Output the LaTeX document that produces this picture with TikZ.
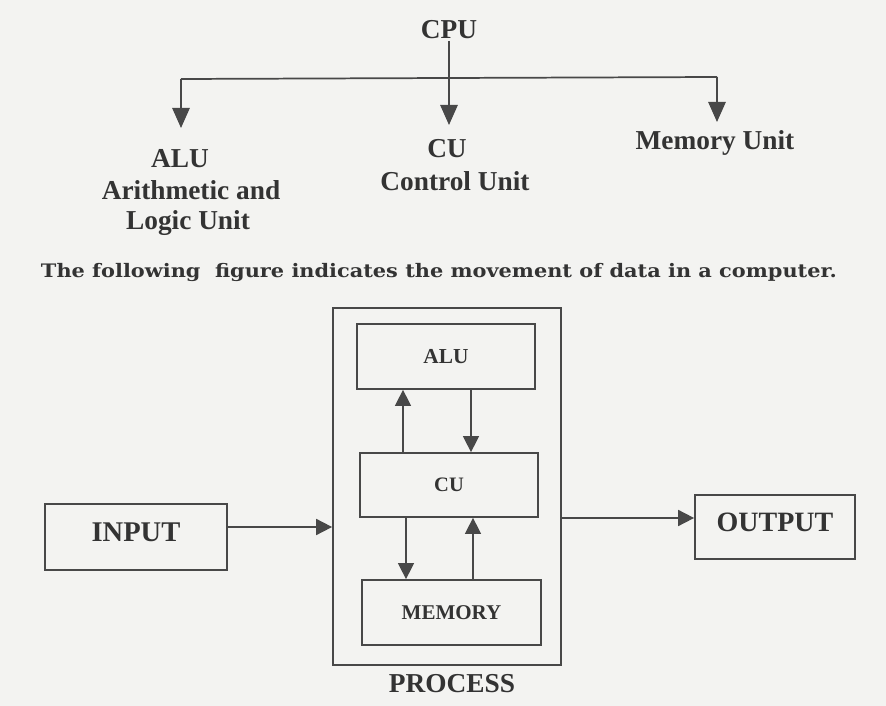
\documentclass[tikz,border=0pt]{standalone}
\usepackage{fontspec}
\usepackage{graphicx}
\setmainfont{Liberation Serif}
\newfontfamily\capfont{DejaVu Serif}[BoldFont={DejaVu Serif Bold}]
\usetikzlibrary{arrows.meta,calc}
\definecolor{ink}{HTML}{333333}
\definecolor{wire}{HTML}{484848}
\definecolor{paper}{HTML}{F3F3F1}
\begin{document}
\begin{tikzpicture}[x=0.75pt,y=-0.75pt,
  txt/.style={text=ink,inner sep=0pt,anchor=base,font=\bfseries\fontsize{20.5}{22}\selectfont},
  boxlbl/.style={draw=wire,line width=1.3pt,inner sep=0pt,text=ink},
  bigtip/.style={-{Triangle[length=15pt,width=13pt]}},
  smalltip/.style={-{Triangle[length=12pt,width=12pt]}},
  wireline/.style={draw=wire,line width=1.3pt},
  thinwire/.style={draw=wire,line width=1pt}]
\fill[paper] (0,0) rectangle (886,706);
\useasboundingbox (0,0) rectangle (886,706);

% ---------- top hierarchy ----------
\node[txt] (cpu) at (449,39) {CPU};
\node[txt] (aluA) at (180,168) {ALU};
\node[txt] (aluB) at (191,200) {Arithmetic and};
\node[txt] (aluC) at (188,230) {Logic Unit};
\node[txt] (cuA) at (447,158) {CU};
\node[txt] (cuB) at (455,191) {Control Unit};
\node[txt] (mem) at (715,150) {Memory Unit};

\coordinate (hl) at (181,79);
\coordinate (hr) at (717,77);
\coordinate (tipl) at (181,128);
\coordinate (tipc) at (449,125);
\coordinate (tipr) at (717,122);
\draw[wireline,bigtip] ([yshift=-1pt]cpu.south) -- (tipc);
\draw[wireline,bigtip] (hl) -- (tipl);
\draw[wireline,bigtip] (hr) -- (tipr);
\draw[wireline] (hl) -- (hr);

% ---------- caption ----------
\node[text=ink,inner sep=0pt,anchor=base] (cap) at (439,277)
  {\resizebox{597pt}{10.6pt}{\capfont\bfseries\fontsize{16}{18}\selectfont The following~~figure indicates the movement of data in a computer.}};

% ---------- bottom block diagram ----------
\node[boxlbl,minimum width=171pt,minimum height=267.75pt] (process) at (447,486.5) {};
\node[boxlbl,minimum width=133.5pt,minimum height=48.75pt,font=\bfseries\fontsize{16}{18}\selectfont] (alu) at (446,356.5) {ALU};
\node[boxlbl,minimum width=133.5pt,minimum height=48pt,font=\bfseries\fontsize{15.4}{18}\selectfont] (cu) at (449,485) {CU};
\node[boxlbl,minimum width=134.25pt,minimum height=48.75pt,font=\bfseries\fontsize{15.75}{18}\selectfont] (memory) at (451.5,612.5) {MEMORY};
\node[txt] (proc) at (452,692) {PROCESS};
\node[boxlbl,minimum width=136.5pt,minimum height=49.5pt,text depth=7pt,font=\bfseries\fontsize{21.4}{24}\selectfont] (input) at (136,537) {INPUT};
\node[boxlbl,minimum width=120pt,minimum height=48pt,text depth=7pt,font=\bfseries\fontsize{21}{24}\selectfont] (output) at (775,527) {OUTPUT};

\coordinate (xa) at (403,0);
\coordinate (xb) at (471,0);
\coordinate (xc) at (406,0);
\coordinate (xd) at (473,0);
\draw[thinwire,smalltip] (cu.north -| xa) -- (alu.south -| xa);
\draw[thinwire,smalltip] (alu.south -| xb) -- (cu.north -| xb);
\draw[thinwire,smalltip] (cu.south -| xc) -- (memory.north -| xc);
\draw[thinwire,smalltip] (memory.north -| xd) -- (cu.south -| xd);

\coordinate (inarr) at (0,527);
\coordinate (outarr) at (0,518);
\draw[wireline,smalltip] (input.east |- inarr) -- (process.west |- inarr);
\draw[wireline,smalltip] (process.east |- outarr) -- (output.west |- outarr);
\end{tikzpicture}
\end{document}
